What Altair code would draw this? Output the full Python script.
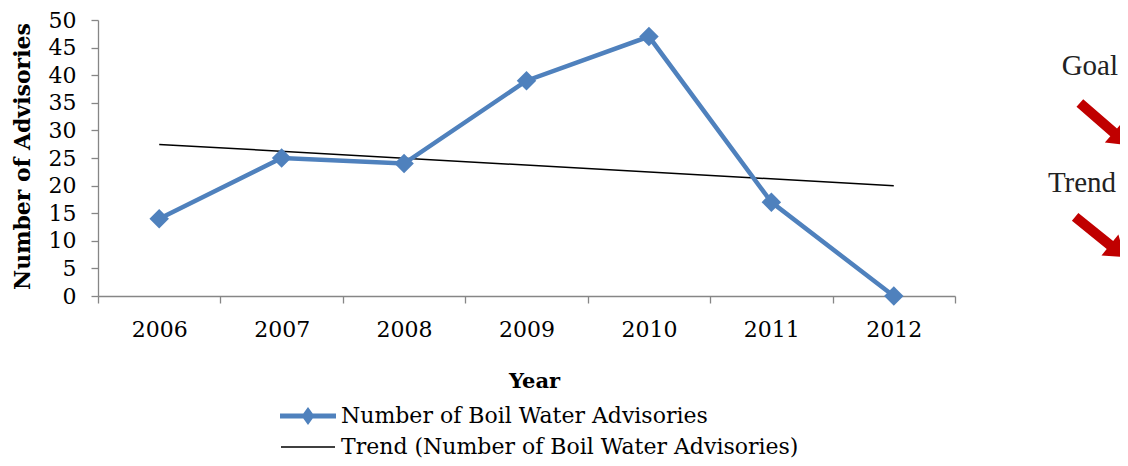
import altair as alt
import pandas as pd

# ---- data ----
years = [2006, 2007, 2008, 2009, 2010, 2011, 2012]
advisories = [14, 25, 24, 39, 47, 17, 0]
series_names = ["Number of Boil Water Advisories",
                "Trend (Number of Boil Water Advisories)"]
y_ticks = [0, 5, 10, 15, 20, 25, 30, 35, 40, 45, 50]
annotation_goal = ["Goal"]
annotation_trend = ["Trend"]

df = pd.DataFrame({"year": years, "count": advisories, "series": series_names[0]})

BLUE = "#4F81BD"
RED = "#C00000"
AXIS_GRAY = "#868686"
FONT = "DejaVu Serif"

W, H = 857, 276

x_enc = alt.X(
    "year:O",
    scale=alt.Scale(type="band", paddingInner=0, paddingOuter=0),
    axis=alt.Axis(
        title="Year", labelAngle=0, tickBand="extent", tickSize=7,
        labelPadding=16, titleX=436, titleY=91, titleBaseline="alphabetic",
        titleAlign="center", titleFontSize=21,
    ),
)
y_enc = alt.Y(
    "count:Q",
    scale=alt.Scale(domain=[0, 50], nice=False, zero=True),
    axis=alt.Axis(
        values=y_ticks, title="Number of Advisories", tickSize=7,
        labelPadding=15, titleX=-69, titleY=136, titleAngle=270,
        titleBaseline="alphabetic", titleAlign="center", titleFontSize=22,
    ),
)

base = alt.Chart(df)

line = base.mark_line(color=BLUE, strokeWidth=4.5).encode(x=x_enc, y=y_enc)
points = base.mark_point(shape="diamond", filled=True, color=BLUE, size=380,
                         opacity=1, strokeWidth=0).encode(x=x_enc, y=y_enc)

trend = base.transform_regression("year", "count", method="linear").mark_line(
    color="black", strokeWidth=1.5
).encode(x=x_enc, y=y_enc)

# legend symbols: thick line with diamond / thin line
sym_main = "M-2.8,-0.25L2.8,-0.25L2.8,0.25L-2.8,0.25Z M-0.65,0L0,-0.9L0.65,0L0,0.9Z"
sym_trend = "M-2.7,-0.075L2.7,-0.075L2.7,0.075L-2.7,0.075Z"

leg = alt.Legend(
    orient="none", legendX=199, legendY=385, direction="vertical", title=None,
    labelFont=FONT, labelFontSize=22, labelColor="black", labelLimit=0,
    symbolSize=400, symbolStrokeWidth=0, symbolOpacity=1, rowPadding=9,
    labelOffset=22, padding=0,
)
legend_layer = base.transform_filter("false").mark_point(filled=True).encode(
    x=x_enc, y=y_enc,
    color=alt.Color("series:N", scale=alt.Scale(domain=series_names, range=[BLUE, "black"]), legend=leg),
    shape=alt.Shape("series:N", scale=alt.Scale(domain=series_names, range=[sym_main, sym_trend]), legend=leg),
)

# annotations on the right
arrow = "M-1,-0.16L0.4,-0.16L0.4,-0.42L1,0L0.4,0.42L0.4,0.16L-1,0.16Z"
goal_text = alt.Chart(pd.DataFrame({"t": annotation_goal})).mark_text(
    font="Liberation Serif", fontSize=29, color="#222222", align="right", baseline="alphabetic"
).encode(text="t:N", x=alt.value(1020), y=alt.value(55))
trend_text = alt.Chart(pd.DataFrame({"t": annotation_trend})).mark_text(
    font="Liberation Serif", fontSize=29, color="#222222", align="center", baseline="alphabetic"
).encode(text="t:N", x=alt.value(984), y=alt.value(172))
goal_arrow = alt.Chart(pd.DataFrame({"t": annotation_goal})).mark_point(
    shape=arrow, filled=True, color=RED, size=4096, angle=41, opacity=1, strokeWidth=0
).encode(x=alt.value(1006), y=alt.value(104))
trend_arrow = alt.Chart(pd.DataFrame({"t": annotation_trend})).mark_point(
    shape=arrow, filled=True, color=RED, size=4096, angle=39, opacity=1, strokeWidth=0
).encode(x=alt.value(1002), y=alt.value(217))

chart = alt.layer(
    trend, line, points, legend_layer, goal_text, trend_text, goal_arrow, trend_arrow
).properties(
    width=W, height=H,
    autosize=alt.AutoSizeParams(type="none"),
    padding={"left": 90, "top": 12, "right": 165, "bottom": 162},
    background="white",
).configure_view(stroke=None).configure_axis(
    grid=False, domainColor=AXIS_GRAY, tickColor=AXIS_GRAY, domainWidth=1.3, tickWidth=1.3,
    labelFont=FONT, labelFontSize=22, labelColor="black",
    titleFont=FONT, titleFontWeight="bold", titleColor="black",
)

chart.save("out.html", embed_options={"renderer": "svg", "actions": False})
